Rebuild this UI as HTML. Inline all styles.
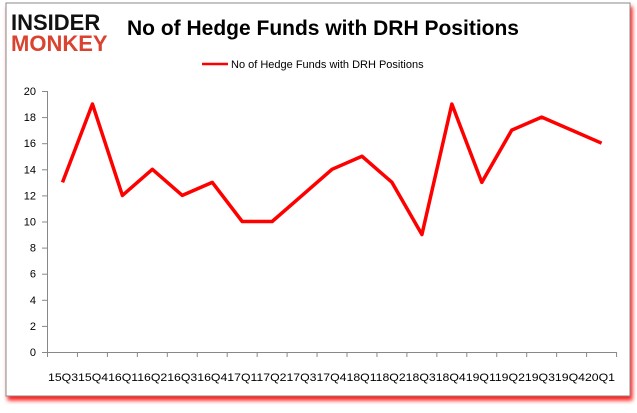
<!DOCTYPE html>
<html><head><style>
body{margin:0;width:637px;height:408px;background:#fff;overflow:hidden;font-family:"Liberation Sans",sans-serif}
</style></head><body>
<svg width="637" height="408" xmlns="http://www.w3.org/2000/svg" font-family="Liberation Sans, sans-serif">
<defs><filter id="f" x="-5%" y="-5%" width="110%" height="115%"><feDropShadow dx="2" dy="4" stdDeviation="2" flood-color="#f00" flood-opacity="0.9"/></filter></defs>
<rect x="6" y="3" width="624" height="393" fill="#fff" stroke="#888" stroke-width="1" filter="url(#f)"/>
<text x="11" y="30" font-size="22" font-weight="bold" fill="#111">INSIDER</text>
<text x="11" y="51" font-size="22" font-weight="bold" fill="#d9432f">MONKEY</text>
<text x="127" y="35" font-size="21" font-weight="bold" fill="#000">No of Hedge Funds with DRH Positions</text>
<line x1="202" y1="64" x2="228" y2="64" stroke="#f00" stroke-width="2.5"/>
<text x="231" y="68" font-size="11" fill="#000">No of Hedge Funds with DRH Positions</text>
<g stroke="#888" stroke-width="1">
<line x1="47.5" y1="91" x2="47.5" y2="352"/>
<line x1="47" y1="352.5" x2="616" y2="352.5"/>
</g>
<text x="48" y="381" font-size="11" fill="#000" textLength="567" lengthAdjust="spacingAndGlyphs">15Q315Q416Q116Q216Q316Q417Q117Q217Q317Q418Q118Q218Q318Q419Q119Q219Q319Q420Q1</text>
<script>
var svg=document.querySelector('svg'),ns='http://www.w3.org/2000/svg';
function el(t,a,txt){var e=document.createElementNS(ns,t);for(var k in a)e.setAttribute(k,a[k]);if(txt!=null)e.textContent=txt;svg.appendChild(e);return e;}
for(var v=0;v<=20;v+=2){var y=352-v*13.05;el('line',{x1:42,x2:47,y1:y+.5,y2:y+.5,stroke:'#888'});el('text',{x:36,y:y+4,'font-size':11,'text-anchor':'end'},v);}
var d=[13,19,12,14,12,13,10,10,12,14,15,13,9,19,13,17,18,17,16];
var s=29.95,pts=[];
for(var i=0;i<=19;i++){var x=47.5+i*s;el('line',{x1:x,x2:x,y1:352,y2:357,stroke:'#888'});}
for(var i=0;i<19;i++){var cx=62.5+i*s;pts.push(cx+','+(352-d[i]*13.05));}
el('polyline',{points:pts.join(' '),fill:'none',stroke:'#f00','stroke-width':3.5,'stroke-linejoin':'round'});
</script>
</svg>
</body></html>
